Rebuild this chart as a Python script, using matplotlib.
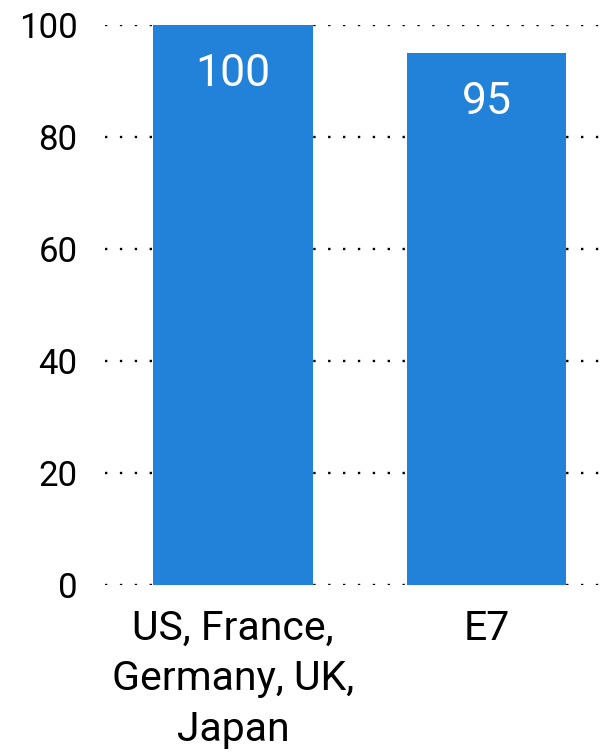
import matplotlib.pyplot as plt

categories = ["US, France,\nGermany, UK,\nJapan", "E7"]
values = [100, 95]
yticks = [0, 20, 40, 60, 80, 100]

bar_color = "#2281d9"
fam = ["Roboto", "DejaVu Sans"]

fig = plt.figure(figsize=(6.08, 7.53), dpi=100)
ax = fig.add_axes([0.173, 0.2231, 0.822, 0.7437])

x = range(len(values))
bars = ax.bar(x, values, width=0.63, color=bar_color, zorder=2)

for rect, v in zip(bars, values):
    ax.annotate(str(v), (rect.get_x() + rect.get_width() / 2, v),
                xytext=(0, -35), textcoords="offset points",
                ha="center", va="center", color="white",
                fontsize=32, family=fam)

ax.set_xlim(-0.505, 1.467)
ax.set_ylim(0, 100)
ax.set_yticks(yticks)
ax.set_yticklabels([str(t) for t in yticks], fontsize=25, family=fam)
ax.set_xticks(list(x))
ax.set_xticklabels(categories, fontsize=29.5, family=fam, linespacing=1.38)
ax.tick_params(axis="y", length=0, pad=20)
ax.tick_params(axis="x", length=0, pad=17)

ax.yaxis.grid(True, color="black", linestyle=(0, (1, 5.3)), linewidth=1.7, zorder=1)
ax.set_axisbelow(True)
for s in ax.spines.values():
    s.set_visible(False)

fig.savefig("out.png", dpi=100)
